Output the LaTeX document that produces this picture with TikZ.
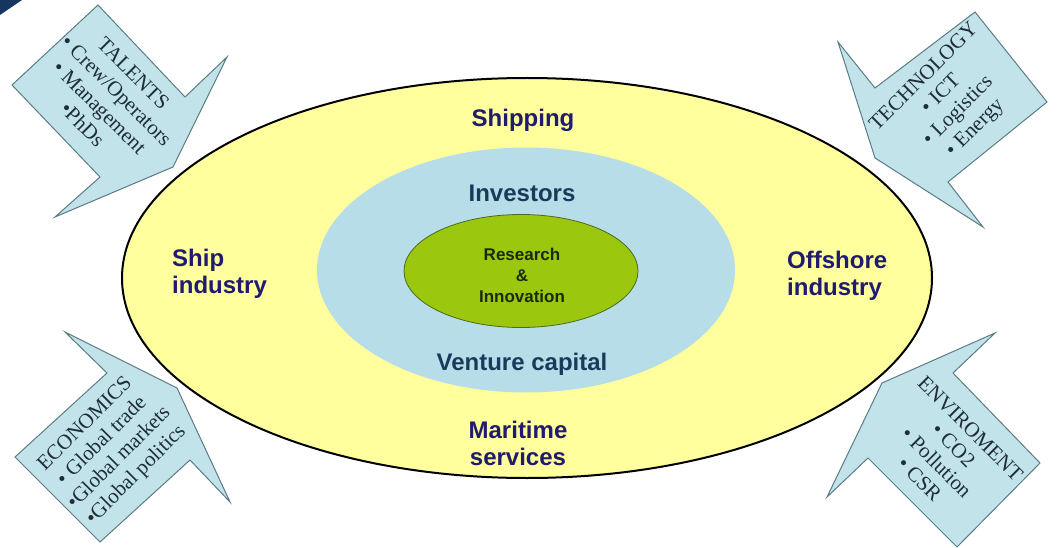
\documentclass[tikz,border=0pt]{standalone}
\usepackage{fontspec}
\setmainfont{Liberation Serif}
\setsansfont{Liberation Sans}
\usetikzlibrary{shapes.geometric}
\definecolor{navylab}{HTML}{201C6B}
\definecolor{bluelab}{HTML}{1A3A5C}
\definecolor{greenlab}{HTML}{1C2A08}
\definecolor{outerfill}{HTML}{FFFF9E}
\definecolor{midfill}{HTML}{B7DDE8}
\definecolor{innerfill}{HTML}{9CC70F}
\definecolor{inneredge}{HTML}{4A6A20}
\definecolor{arrowfill}{HTML}{C3E3EA}
\definecolor{arrowedge}{HTML}{5C7C84}
\definecolor{arrowtxt}{HTML}{1E2E38}
\definecolor{cornernavy}{HTML}{16365F}
\begin{document}
\begin{tikzpicture}[x=1pt,y=-1pt,
  lab/.style={font=\sffamily\bfseries\fontsize{24}{27}\selectfont, text=navylab, inner sep=0pt},
  labb/.style={lab, text=bluelab},
  arrowshape/.style={fill=arrowfill, draw=arrowedge, line width=1pt, line join=miter},
  arrowtext/.style={font=\fontsize{21}{24}\selectfont, text=arrowtxt, align=center, inner sep=0pt},
  oval/.style={ellipse, inner sep=0pt}]
\useasboundingbox (0,0) rectangle (1057,548);
\fill[white] (0,0) rectangle (1057,548);
\fill[cornernavy] (0,0) -- (22,0) -- (0,15) -- cycle;

% ellipses
\node[oval, draw=black, line width=2pt, fill=outerfill, minimum width=810pt, minimum height=400pt] (outer) at (527,278) {};
\node[oval, fill=midfill, minimum width=418pt, minimum height=245pt] (mid) at (526,270) {};
\node[oval, draw=inneredge, line width=0.8pt, fill=innerfill, minimum width=234pt, minimum height=113pt] (inner) at (521,271) {};

% labels (base anchor of a multi-line node = baseline of its last line)
\node[lab, anchor=base] (shipping) at (523,127) {Shipping};
\node[labb, anchor=base] (investors) at (522,201) {Investors};
\node[labb, anchor=base] (venture) at (522,370) {Venture capital};
\node[lab, anchor=base, align=center] (maritime) at (518,465) {Maritime\\services};
\node[lab, anchor=base west, align=left] (shipind) at (172,293) {Ship\\industry};
\node[lab, anchor=base west, align=left] (offshore) at (787,295) {Offshore\\industry};
\node[font=\sffamily\bfseries\fontsize{17}{21}\selectfont, text=greenlab, align=center, inner sep=0pt, anchor=base] (rni) at (522,302) {Research\\\&\\Innovation};

% arrows
\draw[arrowshape] (12,85) -- (98,5) -- (185,97) -- (227,57) -- (173,167) -- (55,217) -- (100,177) -- cycle;
\draw[arrowshape] (975,12) -- (1047,102) -- (948,182) -- (983,227) -- (875,158) -- (838,42) -- (875,88) -- cycle;
\draw[arrowshape] (15,457) -- (107,373) -- (65,332) -- (177,388) -- (230,502) -- (190,460) -- (100,542) -- cycle;
\draw[arrowshape] (953,373) -- (995,333) -- (882,383) -- (827,497) -- (868,458) -- (957,547) -- (1040,463) -- cycle;

\node[arrowtext, rotate=-45] (talents) at (108,99) {TALENTS\\• Crew/Operators\\• Management\\•PhDs};
\node[arrowtext, rotate=45] (technology) at (950,103) {TECHNOLOGY\\• ICT\\• Logistics\\• Energy};
\node[arrowtext, rotate=45] (economics) at (111,450) {ECONOMICS\\• Global trade\\•Global markets\\•Global politics};
\node[arrowtext, rotate=-45] (enviroment) at (945,454) {ENVIROMENT\\• CO2\\• Pollution\\• CSR};
\end{tikzpicture}
\end{document}
